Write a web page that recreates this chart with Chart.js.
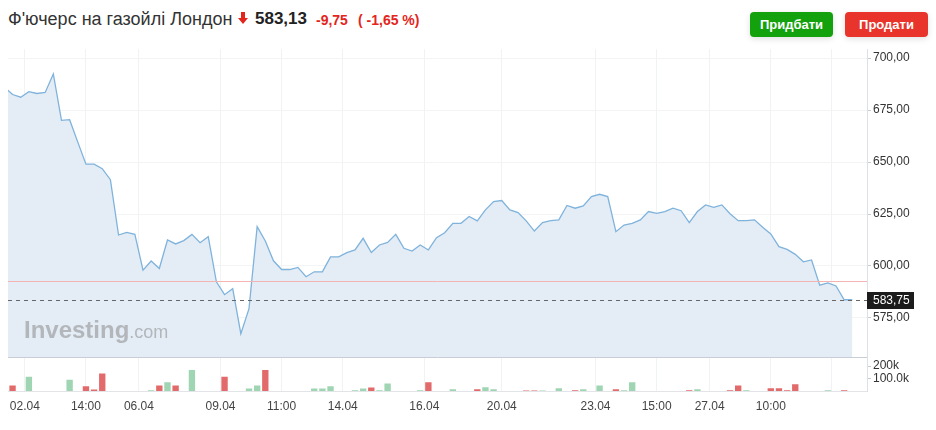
<!DOCTYPE html>
<html lang="uk">
<head>
<meta charset="utf-8">
<title>Ф'ючерс на газойлі Лондон</title>
<script src="https://cdn.jsdelivr.net/npm/chart.js@4.4.1/dist/chart.umd.min.js"></script>
<style>
  body { margin: 0; width: 936px; height: 430px; background: #fff; position: relative; overflow: hidden;
         font-family: Arial, "Liberation Sans", sans-serif; }
  .t { position: absolute; top: 8px; line-height: 22px; white-space: nowrap; }
  .title { left: 8px; font-size: 18px; color: #333; }
  .arrow { position: absolute; left: 238px; top: 12px; }
  .last { left: 255px; font-size: 17px; font-weight: bold; color: #222; }
  .chg { left: 316px; font-size: 14px; font-weight: bold; color: #e3251c; top: 9px; }
  .pct { left: 358px; font-size: 14px; font-weight: bold; color: #e3251c; top: 9px; }
  .btn { position: absolute; top: 12px; height: 25px; width: 83px; border-radius: 4px; color: #fff;
         font-size: 13px; font-weight: bold; text-align: center; line-height: 25px;
         box-shadow: 0 2px 6px rgba(0,0,0,0.12); }
  .buy { left: 750px; background: #13a10e; }
  .sell { left: 845px; background: #e8342a; }
  #wrap { position: absolute; left: 0; top: 40px; width: 936px; height: 390px; }
</style>
</head>
<body>
<div class="t title">Ф'ючерс на газойлі Лондон</div>
<svg class="arrow" width="10" height="12" viewBox="0 0 10 12"><path d="M3 0h4v6h3l-5 6-5-6h3z" fill="#e3251c"/></svg>
<div class="t last">583,13</div>
<div class="t chg">-9,75</div>
<div class="t pct">( -1,65 %)</div>
<div class="btn buy">Придбати</div>
<div class="btn sell">Продати</div>
<div id="wrap"><canvas id="chart" width="936" height="390"></canvas></div>
<script>
// price per point (close of each bar)
const prices = [
  686.1, 682.5, 681.2, 683.9, 683.0, 683.5, 692.4, 670.1, 670.4, 659.6,
  649.0, 649.0, 646.8, 641.5, 614.9, 616.2, 615.2, 598.0, 602.4, 598.8,
  612.5, 610.6, 612.2, 615.2, 611.2, 614.1, 592.4, 586.2, 589.1, 567.4,
  579.5, 618.9, 612.0, 602.5, 598.3, 598.3, 599.3, 594.8, 597.2, 597.2,
  604.4, 604.4, 606.4, 607.7, 613.3, 606.5, 610.1, 611.3, 615.2, 608.5,
  607.2, 610.1, 607.7, 613.6, 616.0, 620.5, 620.5, 623.8, 621.7, 627.0,
  631.0, 631.5, 627.0, 625.7, 621.7, 616.8, 620.9, 621.8, 622.2, 629.1,
  627.8, 628.9, 633.4, 634.5, 633.4, 616.5, 619.7, 620.5, 622.2, 626.2,
  625.3, 626.2, 627.8, 626.6, 620.9, 626.2, 629.4, 628.2, 629.4, 625.1,
  621.8, 621.8, 622.2, 618.6, 615.4, 609.3, 608.0, 605.6, 602.0, 602.9,
  590.8, 591.9, 590.4, 583.75, 583.75
];
// volume in thousands
const volumes = [
  0, 45, 0, 115, 0, 0, 0, 0, 90, 0,
  38, 13, 140, 0, 0, 0, 0, 0, 6, 45,
  70, 45, 0, 170, 0, 0, 0, 115, 0, 0,
  20, 45, 170, 0, 0, 0, 0, 0, 20, 20,
  38, 0, 0, 6, 20, 28, 6, 60, 0, 0,
  0, 6, 70, 0, 0, 15, 0, 0, 15, 30,
  15, 0, 0, 0, 5, 5, 5, 0, 23, 0,
  6, 15, 0, 45, 0, 15, 6, 70, 0, 0,
  0, 0, 0, 0, 6, 15, 0, 0, 0, 6,
  45, 6, 0, 0, 23, 23, 6, 55, 0, 0,
  0, 6, 0, 6, 0
];
// 1 = up bar, -1 = down bar
const volumeDir = [
  0, -1, 0, 1, 0, 0, 0, 0, 1, 0,
  -1, -1, -1, 0, 0, 0, 0, 0, 1, -1,
  1, -1, 0, 1, 0, 0, 0, -1, 0, 0,
  1, 1, -1, 0, 0, 0, 0, 0, 1, 1,
  1, 0, 0, 1, 1, -1, 1, 1, 0, 0,
  0, 1, -1, 0, 0, 1, 0, 0, -1, 1,
  1, 0, 0, 0, -1, -1, 1, 0, 1, 0,
  -1, 1, 0, 1, 0, -1, 1, 1, 0, 0,
  0, 0, 0, 0, -1, 1, 0, 0, 0, -1,
  -1, 1, 0, 0, -1, -1, -1, -1, 0, 0,
  0, 1, 0, -1, 0
];
const tickPos = [2.5, 10, 16.5, 26.5, 34, 41.5, 51.5, 61, 72.5, 80, 86.5, 94, 101.5];
const tickLabels = ['02.04', '14:00', '06.04', '09.04', '11:00', '14.04', '16.04', '20.04', '23.04', '15:00', '27.04', '10:00', ''];
const priceTicks = [575, 600, 625, 650, 675, 700];
const volumeTicks = [100, 200];
const volumeTickLabels = ['100.0k', '200k'];
const prevClose = 592.88;
const lastPrice = 583.75;

const fmt = v => v.toFixed(2).replace('.', ',');

const overlays = {
  id: 'overlays',
  afterDatasetsDraw(chart) {
    const ctx = chart.ctx;
    const { left, right } = chart.chartArea;
    const y = chart.scales.y;
    ctx.save();
    // price pane bottom border
    ctx.strokeStyle = '#c9ced6';
    ctx.lineWidth = 1;
    ctx.beginPath();
    ctx.moveTo(left, Math.round(y.bottom) + 0.5);
    ctx.lineTo(right, Math.round(y.bottom) + 0.5);
    ctx.stroke();
    // previous close
    let py = Math.round(y.getPixelForValue(prevClose)) + 0.5;
    ctx.strokeStyle = '#f4b4b4';
    ctx.beginPath();
    ctx.moveTo(left, py);
    ctx.lineTo(right, py);
    ctx.stroke();
    // watermark
    ctx.fillStyle = 'rgba(130,130,130,0.5)';
    ctx.textBaseline = 'alphabetic';
    ctx.font = 'bold 24px Arial, "Liberation Sans", sans-serif';
    ctx.fillText('Investing', 24, 338 - 40);
    const w = ctx.measureText('Investing').width;
    ctx.font = '18px Arial, "Liberation Sans", sans-serif';
    ctx.fillText('.com', 24 + w, 338 - 40);
    // last price line
    py = Math.round(y.getPixelForValue(lastPrice)) + 0.5;
    ctx.strokeStyle = '#666';
    ctx.setLineDash([4, 4]);
    ctx.beginPath();
    ctx.moveTo(left, py);
    ctx.lineTo(right, py);
    ctx.stroke();
    ctx.setLineDash([]);
    ctx.fillStyle = '#1c1c1c';
    ctx.fillRect(right, py - 8.5, 47, 17);
    ctx.fillStyle = '#fff';
    ctx.font = '12px Arial, "Liberation Sans", sans-serif';
    ctx.textBaseline = 'middle';
    ctx.fillText(fmt(lastPrice), right + 6, py);
    ctx.restore();
  }
};

new Chart(document.getElementById('chart'), {
  type: 'line',
  data: {
    datasets: [{
      type: 'line',
      data: prices.map((v, i) => ({ x: i, y: v })),
      yAxisID: 'y',
      borderColor: '#7fb3dc',
      borderWidth: 1.3,
      backgroundColor: '#e4edf5',
      fill: 'start',
      pointRadius: 0,
      tension: 0
    }, {
      type: 'bar',
      data: volumes.map((v, i) => ({ x: i, y: v * 1000 })),
      yAxisID: 'yv',
      backgroundColor: volumeDir.map(d => d < 0 ? '#e36a6a' : '#9fd5b2'),
      barPercentage: 0.78,
      categoryPercentage: 1
    }]
  },
  options: {
    responsive: false,
    animation: false,
    devicePixelRatio: 1,
    layout: { padding: { left: 8, top: 7, right: 0, bottom: 0 } },
    plugins: { legend: { display: false }, tooltip: { enabled: false } },
    scales: {
      x: {
        type: 'linear',
        offset: false,
        min: 0.44,
        max: 105.8,
        afterBuildTicks: s => { s.ticks = tickPos.map(v => ({ value: v })); },
        afterFit: s => { s.height = 39; },
        grid: { color: '#f1f2f4', drawTicks: false, offset: false },
        border: { color: '#e2e4e8' },
        ticks: {
          autoSkip: false, maxRotation: 0, padding: 8, color: '#444',
          font: { size: 12, family: 'Arial, "Liberation Sans", sans-serif' },
          callback: (v, i) => tickLabels[i]
        }
      },
      y: {
        position: 'right',
        stack: 'pane',
        stackWeight: 310,
        min: 556.1,
        max: 704.3,
        afterBuildTicks: s => { s.ticks = priceTicks.map(v => ({ value: v })); },
        afterFit: s => { s.width = 69; },
        grid: { color: '#f3f4f6', tickColor: '#c8ccd2', tickLength: 4 },
        border: { color: '#dde1e6' },
        ticks: {
          padding: 2, color: '#333',
          font: { size: 12, family: 'Arial, "Liberation Sans", sans-serif' },
          callback: v => fmt(v)
        }
      },
      yv: {
        position: 'right',
        stack: 'pane',
        stackWeight: 34,
        min: 0,
        max: 272000,
        afterBuildTicks: s => { s.ticks = volumeTicks.map(v => ({ value: v * 1000 })); },
        afterFit: s => { s.width = 69; },
        grid: { drawOnChartArea: false, tickColor: '#c8ccd2', tickLength: 4 },
        border: { color: '#dde1e6' },
        ticks: {
          padding: 2, color: '#333',
          font: { size: 12, family: 'Arial, "Liberation Sans", sans-serif' },
          callback: (v, i) => volumeTickLabels[i]
        }
      }
    }
  },
  plugins: [overlays]
});
</script>
</body>
</html>
